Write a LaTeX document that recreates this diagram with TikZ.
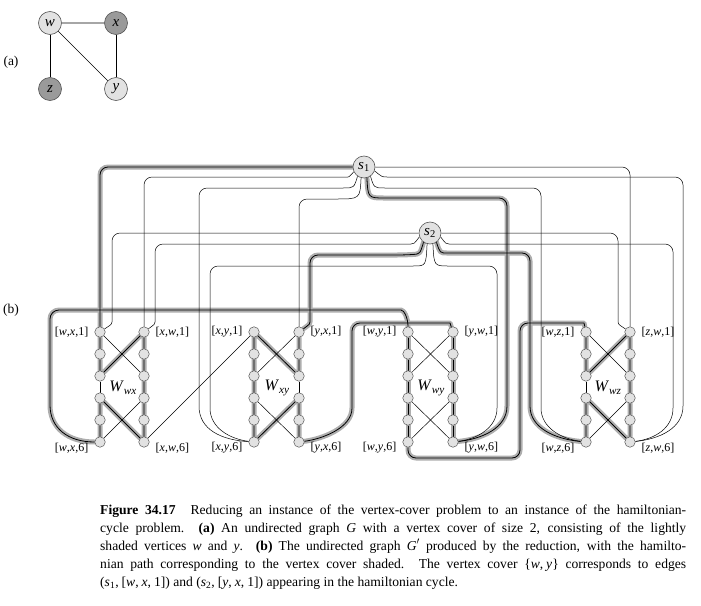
\documentclass[tikz,border=0pt]{standalone}
\usepackage{fontspec}
\setmainfont{Liberation Serif}
\pgfdeclarelayer{halo}
\pgfdeclarelayer{lines}
\pgfsetlayers{halo,lines,main}
\definecolor{vfill}{HTML}{E2E2E2}
\definecolor{vdark}{HTML}{9A9A9A}
\definecolor{vedge}{HTML}{555555}
\definecolor{halocol}{HTML}{AEAEAE}
\newcommand\hlpath[1]{\begin{pgfonlayer}{halo}\draw[haloline] #1;\end{pgfonlayer}\begin{pgfonlayer}{lines}\draw[coreline] #1;\end{pgfonlayer}}
\newcommand\tnpath[1]{\begin{pgfonlayer}{lines}\draw[thinline] #1;\end{pgfonlayer}}
\tikzset{
  haloline/.style={draw=halocol, line width=5pt, line cap=round, line join=round},
  coreline/.style={draw=black, line width=0.8pt},
  thinline/.style={draw=black, line width=0.5pt},
  vtx/.style={circle, minimum size=10.5pt, inner sep=0pt, fill=vfill, draw=vedge, line width=0.5pt},
  snode/.style={circle, minimum size=22pt, inner sep=0pt, fill=vfill, draw=vedge, line width=0.6pt, font=\fontsize{15}{17}\selectfont},
  gnode/.style={circle, minimum size=23pt, inner sep=0pt, draw=vedge, line width=0.6pt, font=\fontsize{15}{17}\selectfont},
  lbl/.style={font=\fontsize{12}{14}\selectfont, inner sep=0pt},
  wlbl/.style={font=\fontsize{16}{18}\selectfont, inner sep=0pt},
  partlbl/.style={font=\fontsize{13.5}{16}\selectfont, inner sep=0pt},
  capline/.style={font=\fontsize{13.6}{18}\selectfont, inner sep=0pt, anchor=base west},
}
\begin{document}
\begin{tikzpicture}[x=1pt,y=-1pt]
\useasboundingbox (0,0) rectangle (701,605);

% ---------- (a) ----------
\node[partlbl] (pa) at (11,62) {(a)};
\node[gnode, fill=vfill] (w) at (50,23) {\textit{w}};
\node[gnode, fill=vdark] (x) at (116,23) {\textit{x}};
\node[gnode, fill=vdark] (z) at (50,89) {\textit{z}};
\node[gnode, fill=vfill] (y) at (116,89) {\textit{y}};
\draw[draw=black!35, line width=1.4pt] (w) -- (x);
\draw[black, line width=0.6pt] (w) -- (z);
\draw[black, line width=0.6pt] (w) -- (y);
\draw[black, line width=0.6pt] (x) -- (y);

% ---------- (b) ----------
\node[partlbl] (pb) at (11,310) {(b)};
\node[snode] (s1) at (364,167) {\textit{s}\textsubscript{1}};
\node[snode] (s2) at (430,233) {\textit{s}\textsubscript{2}};

\foreach \ua/\va/\xl/\xr in {w/x/100/144, x/y/254/299, w/y/408/453, w/z/586/630}{
  \foreach \i in {1,...,6}{
    \node[vtx] (\ua\va\i) at (\xl,{332+22*(\i-1)}) {};
    \node[vtx] (\va\ua\i) at (\xr,{332+22*(\i-1)}) {};
  }
  \node[lbl, anchor=east] (L\ua\va1) at ([xshift=-6pt]\ua\va1.west) {[\textit{\ua},\textit{\va},1]};
  \node[lbl, anchor=west] (L\va\ua1) at ([xshift=6pt]\va\ua1.east) {[\textit{\va},\textit{\ua},1]};
  \node[lbl, anchor=east] (L\ua\va6) at ([xshift=-6pt,yshift=-6pt]\ua\va6.west) {[\textit{\ua},\textit{\va},6]};
  \node[lbl, anchor=west] (L\va\ua6) at ([xshift=6pt,yshift=-6pt]\va\ua6.east) {[\textit{\va},\textit{\ua},6]};
}
\node[wlbl] (Wwx) at (123,388) {\textit{W}\textsubscript{\textit{wx}}};
\node[wlbl] (Wxy) at (277,388) {\textit{W}\textsubscript{\textit{xy}}};
\node[wlbl] (Wwy) at (431,388) {\textit{W}\textsubscript{\textit{wy}}};
\node[wlbl] (Wwz) at (608,388) {\textit{W}\textsubscript{\textit{wz}}};

% gadgets where only one endpoint is covered
\foreach \cv/\ov in {wx/xw, yx/xy, wz/zw}{
  \hlpath{(\cv1)--(\cv2)--(\cv3)--(\ov1)--(\ov2)--(\ov3)--(\ov4)--(\ov5)--(\ov6)--(\cv4)--(\cv5)--(\cv6)}
  \tnpath{(\cv3)--(\cv4)}
  \tnpath{(\cv1)--(\ov3)}
  \tnpath{(\cv6)--(\ov4)}
}
% gadget W_wy: both covered
\hlpath{(wy1)--(wy2)--(wy3)--(wy4)--(wy5)--(wy6)}
\hlpath{(yw1)--(yw2)--(yw3)--(yw4)--(yw5)--(yw6)}
\tnpath{(wy1)--(yw3)}
\tnpath{(wy3)--(yw1)}
\tnpath{(wy4)--(yw6)}
\tnpath{(wy6)--(yw4)}

% chain edges between gadgets
\tnpath{(xw6)--(xy1)}
\hlpath{[rounded corners=9pt] (wx6) .. controls (68,442) and (50,428) .. (50,396) -- (50,310) -- (392,310) .. controls (404,310) and (408,318) .. (wy1)}
\hlpath{[rounded corners=8pt] (yx6) .. controls (322,439) and (352,428) .. (352,400) -- (352,323) -- (442,323) .. controls (450,323) .. (yw1)}
\hlpath{[rounded corners=8pt] (wy6) -- (408,458) -- (520,458) -- (520,323) -- (576,323) .. controls (584,323) .. (wz1)}

% edges of s1
\hlpath{[rounded corners=8pt] (s1) -- (100,167) -- (wx1)}
\tnpath{[rounded corners=8pt] (s1.205) .. controls (349,177) .. (340,177) -- (144,177) -- (xw1)}
\tnpath{[rounded corners=8pt] (s1.235) .. controls (354,188) .. (335,188) -- (199,188) -- (199,398) .. controls (199,430) and (222,440) .. (xy6)}
\tnpath{[rounded corners=8pt] (s1.255) .. controls (360,199) .. (328,199) -- (299,199) -- (yx1)}
\tnpath{[rounded corners=8pt] (s1) -- (630,167) -- (zw1)}
\tnpath{[rounded corners=8pt] (s1.-20) .. controls (382,177) .. (395,177) -- (683,177) -- (683,398) .. controls (683,428) and (660,439) .. (zw6)}
\tnpath{[rounded corners=8pt] (s1.-55) .. controls (374,188) .. (393,188) -- (541,188) -- (541,400) .. controls (541,428) and (562,439) .. (wz6)}
\hlpath{[rounded corners=8pt] (s1.-75) .. controls (368,198) .. (393,198) -- (507,198) -- (507,398) .. controls (507,428) and (482,439) .. (yw6)}

% edges of s2
\tnpath{[rounded corners=8pt] (s2) -- (112,233) -- (112,314) .. controls (112,324) .. (wx1)}
\tnpath{[rounded corners=8pt] (s2.200) .. controls (414,244) .. (403,244) -- (155,244) -- (155,314) .. controls (155,324) .. (xw1)}
\hlpath{[rounded corners=8pt] (s2.235) .. controls (420,254) .. (405,255) -- (310,255) -- (310,314) .. controls (310,324) .. (yx1)}
\tnpath{[rounded corners=8pt] (s2.255) .. controls (426,266) .. (405,266) -- (210,266) -- (210,400) .. controls (210,428) and (230,439) .. (xy6)}
\tnpath{[rounded corners=8pt] (s2) -- (618,233) -- (618,314) .. controls (618,324) .. (zw1)}
\tnpath{[rounded corners=8pt] (s2.-20) .. controls (446,244) .. (457,244) -- (673,244) -- (673,400) .. controls (673,428) and (655,439) .. (zw6)}
\hlpath{[rounded corners=8pt] (s2.-55) .. controls (440,253) .. (455,253) -- (530,253) -- (530,398) .. controls (530,428) and (555,439) .. (wz6)}
\tnpath{[rounded corners=8pt] (s2.-75) .. controls (434,266) .. (457,266) -- (497,266) -- (497,400) .. controls (497,428) and (477,439) .. (yw6)}

% ---------- caption ----------
\node[capline] (cap1) at (100,514) {\hbox to 586pt{\textbf{Figure 34.17}\hskip 1.1em Reducing an instance of the vertex-cover problem to an instance of the hamiltonian-}};
\node[capline] (cap2) at (100,532) {\hbox to 586pt{cycle problem. \textbf{(a)} An undirected graph \textit{G} with a vertex cover of size 2, consisting of the lightly}};
\node[capline] (cap3) at (100,550) {\hbox to 586pt{shaded vertices \textit{w} and \textit{y}. \textbf{(b)} The undirected graph \textit{G}$'$ produced by the reduction, with the hamilto-}};
\node[capline] (cap4) at (100,568) {\hbox to 586pt{nian path corresponding to the vertex cover shaded. The vertex cover \{\textit{w},\kern3pt\textit{y}\} corresponds to edges}};
\node[capline] (cap5) at (100,586) {(\textit{s}\textsubscript{1},\kern3pt[\textit{w},\kern3pt\textit{x},\kern3pt1]) and (\textit{s}\textsubscript{2},\kern3pt[\textit{y},\kern3pt\textit{x},\kern3pt1]) appearing in the hamiltonian cycle.};
\end{tikzpicture}
\end{document}
